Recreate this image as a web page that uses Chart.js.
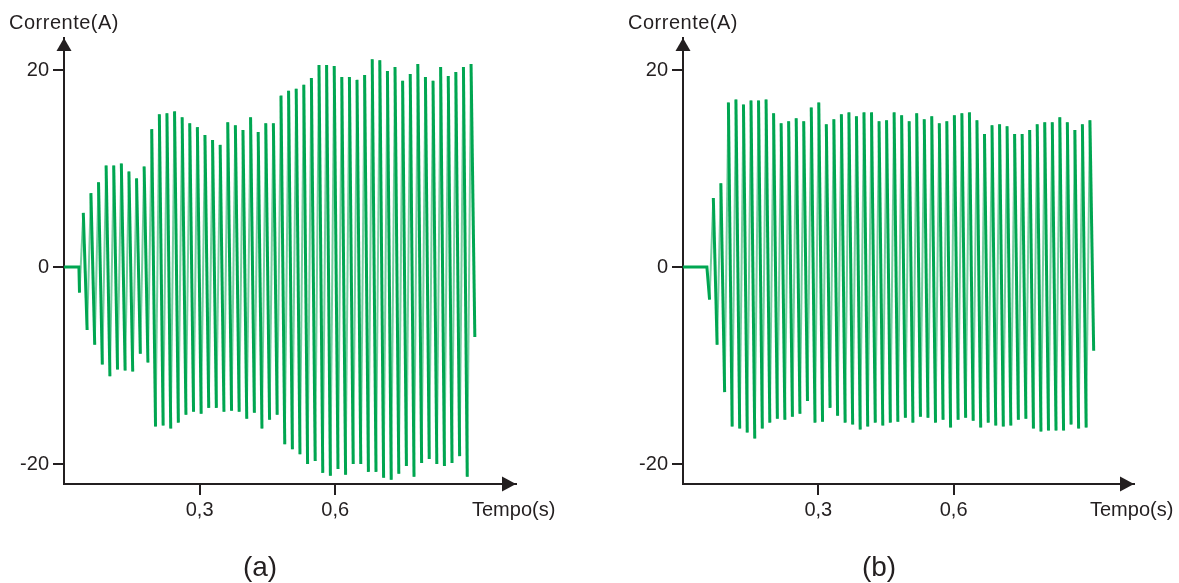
<!DOCTYPE html>
<html>
<head>
<meta charset="utf-8">
<script src="https://cdn.jsdelivr.net/npm/chart.js@4/dist/chart.umd.min.js"></script>
<style>
    body { margin: 0; background: #fff; }
    #wrap { position: relative; width: 1179px; height: 583px; background: #fff; }
    #wrap canvas { position: absolute; top: 0; }
    #chartA { left: 0; }
    #chartB { left: 590px; }
</style>
</head>
<body>
<div id="wrap">
    <canvas id="chartA" width="590" height="583"></canvas>
    <canvas id="chartB" width="589" height="583"></canvas>
</div>
<script>
// axis ticks and labels
const xTicks = [0.3, 0.6];
const xTickLabels = ["0,3", "0,6"];
const yTicks = [-20, 0, 20];
const yTickLabels = ["-20", "0", "20"];

// (a) current extremes, one value per half cycle
const aPeaks = [5.5, 7.5, 8.6, 10.3, 10.3, 10.5, 9.7, 9.0, 10.2, 14.0,
    15.5, 15.6, 15.8, 15.2, 14.6, 14.2, 13.4, 12.9, 12.4, 14.7,
    14.4, 13.9, 15.2, 13.7, 14.6, 14.6, 17.4, 17.9, 18.1, 18.5,
    19.2, 20.5, 20.5, 20.4, 19.3, 19.3, 19.0, 19.5, 21.1, 21.0,
    19.9, 20.3, 18.9, 19.6, 20.6, 19.3, 18.9, 20.3, 19.4, 19.8,
    20.3, 20.6];
const aTroughs = [-6.4, -7.9, -9.9, -11.1, -10.4, -10.5, -10.6, -8.8, -9.7, -16.2,
    -16.1, -16.4, -15.8, -15.0, -14.7, -14.9, -14.3, -14.3, -14.7, -14.6,
    -14.7, -15.4, -14.8, -16.4, -15.5, -15.0, -18.0, -18.5, -19.0, -20.0,
    -19.7, -20.9, -21.2, -20.5, -21.1, -20.0, -20.0, -20.8, -20.8, -21.4,
    -21.6, -21.0, -20.2, -21.3, -19.9, -19.5, -20.0, -20.2, -19.9, -19.2,
    -21.3];
const aDip = -2.6, aTail = -7.1;
const aFlatEnd = 0.033, aStart = 0.0343, aHalf = 0.00841;

// (b)
const bPeaks = [7.0, 8.5, 16.7, 17.0, 16.5, 16.9, 16.9, 17.0, 15.6, 14.6,
    14.8, 15.1, 14.8, 16.2, 16.7, 14.5, 15.0, 15.5, 15.7, 15.3,
    15.7, 15.7, 14.8, 14.9, 15.7, 15.4, 14.8, 15.6, 15.0, 15.3,
    14.6, 14.8, 15.4, 15.6, 15.7, 14.9, 13.5, 14.4, 14.5, 14.3,
    13.5, 13.5, 13.9, 14.5, 14.7, 14.7, 15.2, 14.7, 13.9, 14.5,
    14.9];
const bTroughs = [-7.9, -12.7, -16.2, -16.4, -16.8, -17.4, -16.4, -15.8, -15.4, -15.5,
    -15.2, -14.9, -13.6, -15.8, -15.7, -14.3, -15.1, -15.8, -16.0, -16.5,
    -16.2, -15.8, -16.1, -15.8, -15.7, -15.3, -15.8, -15.2, -15.3, -15.8,
    -15.5, -16.3, -15.5, -15.3, -15.6, -16.3, -15.8, -16.1, -16.2, -16.1,
    -15.5, -15.4, -16.4, -16.7, -16.6, -16.6, -16.6, -16.0, -16.4, -16.3];
const bDip = -3.3, bTail = -8.5;
const bFlatEnd = 0.053, bStart = 0.0589, bHalf = 0.00835;

const INK = "#231f20";
const GREEN = "#00a651";
const GREEN_SOFT = "rgba(0, 166, 81, 0.55)";
const FONT = '"Liberation Sans", Arial, Helvetica, sans-serif';

Chart.defaults.font.family = FONT;
Chart.defaults.font.size = 20;
Chart.defaults.color = INK;

// flat line, first dip, then peak/trough alternating every half cycle
function buildWave(flatEnd, start, half, dip, peaks, troughs, tail) {
    const seq = [dip];
    peaks.forEach((p, i) => {
        seq.push(p);
        if (i < troughs.length) seq.push(troughs[i]);
    });
    seq.push(tail);
    const pts = [{ x: 0, y: 0 }, { x: flatEnd, y: 0 }];
    seq.forEach((v, j) => pts.push({ x: start + j * half, y: v }));
    return pts;
}

// rising edges come out fainter than the falling ones
const rising = ctx => ctx.p1.parsed.y > ctx.p0.parsed.y + 1;

// arrowheads, axis names and panel letter
const decor = {
    id: "decor",
    afterDraw(chart, args, o) {
        const { ctx, chartArea: a } = chart;
        ctx.save();
        ctx.fillStyle = INK;
        ctx.beginPath();
        ctx.moveTo(a.left, a.top);
        ctx.lineTo(a.left - 7.5, a.top + 13);
        ctx.lineTo(a.left + 7.5, a.top + 13);
        ctx.closePath();
        ctx.fill();
        ctx.beginPath();
        ctx.moveTo(a.right, a.bottom);
        ctx.lineTo(a.right - 14, a.bottom - 7.5);
        ctx.lineTo(a.right - 14, a.bottom + 7.5);
        ctx.closePath();
        ctx.fill();

        ctx.font = "20px " + FONT;
        ctx.textAlign = "left";
        ctx.textBaseline = "alphabetic";
        ctx.letterSpacing = "0.5px";
        ctx.fillText(o.yTitle, a.left - 55, a.top - 9);
        ctx.letterSpacing = "0px";
        ctx.textBaseline = "middle";
        ctx.fillText(o.xTitle, a.right - 44, a.bottom + 26);

        ctx.font = "28px " + FONT;
        ctx.textAlign = "center";
        ctx.fillText(o.panel, a.left + 196, a.bottom + 84);
        ctx.restore();
    }
};

function makeChart(id, points, panel, yWidth, padRight) {
    new Chart(document.getElementById(id), {
        type: "line",
        data: {
            datasets: [{
                data: points,
                borderColor: GREEN,
                borderWidth: 3,
                pointRadius: 0,
                tension: 0,
                fill: false,
                segment: {
                    borderColor: ctx => rising(ctx) ? GREEN_SOFT : undefined,
                    borderWidth: ctx => rising(ctx) ? 2 : undefined
                }
            }]
        },
        options: {
            responsive: false,
            animation: false,
            parsing: false,
            layout: { padding: { top: 38, right: padRight, left: 0, bottom: 0 } },
            plugins: {
                legend: { display: false },
                tooltip: { enabled: false },
                decor: { yTitle: "Corrente(A)", xTitle: "Tempo(s)", panel: panel }
            },
            scales: {
                x: {
                    type: "linear",
                    min: 0,
                    max: 1.0,
                    afterFit: s => { s.height = 99; },
                    afterBuildTicks: s => { s.ticks = xTicks.map(v => ({ value: v })); },
                    ticks: {
                        padding: 3,
                        color: INK,
                        callback: v => xTickLabels[xTicks.indexOf(v)]
                    },
                    grid: { display: true, drawOnChartArea: false, drawTicks: true, tickLength: 11, color: INK, lineWidth: 2 },
                    border: { display: true, color: INK, width: 2 }
                },
                y: {
                    type: "linear",
                    min: -22.03,
                    max: 23.25,
                    afterFit: s => { s.width = yWidth; },
                    afterBuildTicks: s => { s.ticks = yTicks.map(v => ({ value: v })); },
                    ticks: {
                        padding: 4,
                        color: INK,
                        callback: v => yTickLabels[yTicks.indexOf(v)]
                    },
                    grid: { display: true, drawOnChartArea: false, drawTicks: true, tickLength: 11, color: INK, lineWidth: 2 },
                    border: { display: true, color: INK, width: 2 }
                }
            }
        },
        plugins: [decor]
    });
}

makeChart("chartA", buildWave(aFlatEnd, aStart, aHalf, aDip, aPeaks, aTroughs, aTail), "(a)", 64, 74);
makeChart("chartB", buildWave(bFlatEnd, bStart, bHalf, bDip, bPeaks, bTroughs, bTail), "(b)", 93, 45);
</script>
</body>
</html>
